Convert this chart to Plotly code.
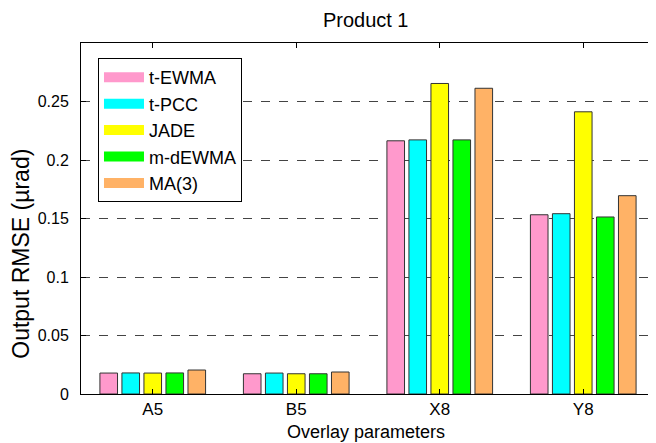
import plotly.graph_objects as go

categories = ["A5", "B5", "X8", "Y8"]
methods = ["t-EWMA", "t-PCC", "JADE", "m-dEWMA", "MA(3)"]
t_ewma = [0.0179, 0.0173, 0.2164, 0.1532]
t_pcc = [0.0180, 0.0179, 0.2172, 0.1541]
jade = [0.0179, 0.0173, 0.2654, 0.2412]
m_dewma = [0.0180, 0.0173, 0.2172, 0.1513]
ma3 = [0.0205, 0.0188, 0.2613, 0.1695]
series = [t_ewma, t_pcc, jade, m_dewma, ma3]
colors = ["#FF99CC", "#00FFFF", "#FFFF00", "#00FF00", "#FFB266"]
y_ticks = [0, 0.05, 0.1, 0.15, 0.2, 0.25, 0.3]
y_ticklabels = ["0", "0.05", "0.1", "0.15", "0.2", "0.25", ""]

FONT = "Liberation Sans, Arial, sans-serif"

fig = go.Figure()
for name, vals, col in zip(methods, series, colors):
    fig.add_trace(go.Bar(
        x=categories, y=vals, name=name, showlegend=False, legendgroup=name,
        marker=dict(color=col, line=dict(color="#333333", width=1)),
    ))
# legend-only entries drawn as wide colour patches
for name, col in zip(methods, colors):
    fig.add_trace(go.Scatter(
        x=[None], y=[None], name=name, legendgroup=name, mode="lines",
        line=dict(color=col, width=18), showlegend=True,
    ))

# page body has an 8px margin, so the figure is sized to fill the rest
fig.update_layout(
    width=648, height=435,
    margin=dict(l=73, r=1, t=35, b=49, autoexpand=False),
    paper_bgcolor="white", plot_bgcolor="white",
    barmode="group", bargap=0.233, bargroupgap=0.2,
    font=dict(family=FONT, color="black", size=17),
    title=dict(text="Product 1", x=0.552, xanchor="center", y=1 - 12 / 435,
               yanchor="middle", font=dict(size=20, family=FONT)),
    showlegend=True,
    legend=dict(x=0.0296, y=0.957, xanchor="left", yanchor="top",
                bgcolor="white", bordercolor="black", borderwidth=1,
                font=dict(size=18, family=FONT), itemwidth=40,
                tracegroupgap=0),
    annotations=[
        dict(text="Overlay parameters", xref="paper", yref="paper",
             x=0.4965, y=-0.1075, xanchor="center", yanchor="middle",
             showarrow=False, font=dict(size=18, family=FONT)),
        dict(text="Output RMSE (µrad)", xref="paper", yref="paper",
             x=-0.106, y=0.40, xanchor="center", yanchor="middle",
             textangle=-90, showarrow=False, font=dict(size=23, family=FONT)),
    ],
)
fig.update_xaxes(
    range=[-0.5, 3.5], showline=True, linecolor="black", linewidth=1,
    mirror="ticks", ticks="inside", ticklen=5, tickcolor="black",
    tickfont=dict(size=17), ticklabelstandoff=0,
    showgrid=False, automargin=False,
)
fig.update_yaxes(
    range=[0, 0.3], tickvals=y_ticks, ticktext=y_ticklabels,
    showline=True, linecolor="black", linewidth=1,
    mirror="ticks", ticks="inside", ticklen=5, tickcolor="black",
    tickfont=dict(size=16), ticklabelstandoff=8, automargin=False,
    showgrid=True, gridcolor="#444444", griddash="dash", gridwidth=1,
    zeroline=False,
)
fig.write_html("out.html")
